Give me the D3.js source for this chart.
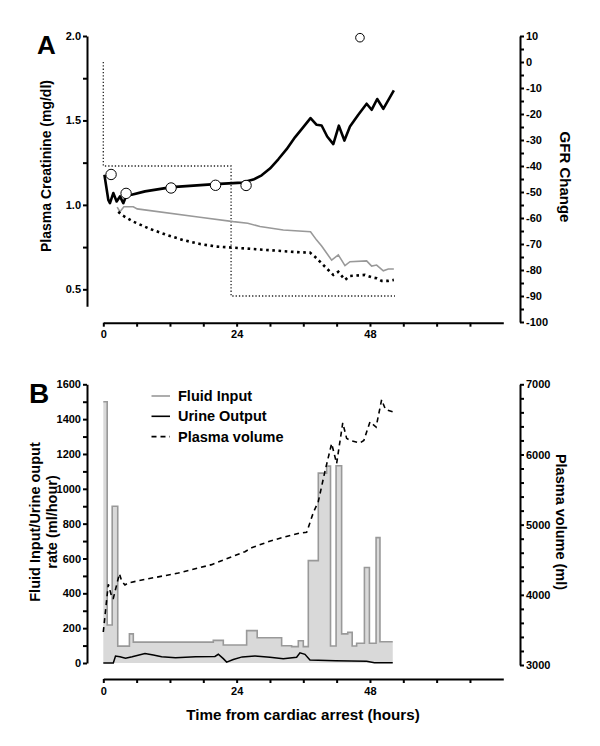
<!DOCTYPE html>
<html><head><meta charset="utf-8">
<script src="https://cdn.jsdelivr.net/npm/d3@7"></script>
<style>
body{margin:0;background:#fff;}
svg{font-family:"Liberation Sans",Arial,sans-serif;}
.axis text{font-weight:bold;font-size:11px;fill:#000;}
.axis path,.axis line{stroke:#000;stroke-width:2px;}
</style></head><body>
<svg id="c" width="600" height="746"></svg>
<script>
// ---------- Panel A data ----------
const xTicks = [0, 24, 48];
const crTicks = [0.5, 1.0, 1.5, 2.0];
const gfrTicks = [10, 0, -10, -20, -30, -40, -50, -60, -70, -80, -90, -100];
// modelled creatinine (mg/dl) [hour, value]
const creatHours = [0.2,0.9,1.2,1.8,2.4,3.0,3.6,4.2,5.1,7.5,12.3,20.1,25.0,27.0,28.5,30.0,31.5,33.0,34.5,36.0,37.3,38.4,39.3,40.3,41.4,42.4,43.4,44.4,45.9,47.4,48.3,49.3,50.4,52.3];
const creatValues = [1.178,1.03,1.01,1.07,1.02,1.05,1.01,1.06,1.06,1.08,1.105,1.123,1.132,1.15,1.175,1.215,1.27,1.33,1.40,1.46,1.514,1.474,1.47,1.405,1.36,1.469,1.381,1.464,1.534,1.599,1.563,1.627,1.569,1.678];
// measured creatinine (circles)
const measHours = [1.4, 4.1, 12.2, 20.2, 25.7, 46.2];
const measValues = [1.18, 1.068, 1.10, 1.116, 1.115, 1.99];
// GFR change (grey line)
const gfrHours = [2.5,3.0,3.7,5.4,6.1,17.4,23.4,26.0,28.2,32.4,37.3,38.4,39.3,41.1,42.3,43.5,44.4,47.4,48.3,49.2,50.4,51.3,52.3];
const gfrValues = [-55.8,-57.6,-55.7,-55.7,-56.5,-59.7,-61.4,-62.0,-63.3,-64.6,-65.3,-68.5,-70.8,-76.2,-74.2,-78.3,-76.8,-76.5,-78.5,-78.1,-80.3,-79.6,-79.6];
// second GFR estimate (thick dotted)
const gfr2Hours = [2.7,3.3,5.4,8.4,11.4,14.4,17.4,20.4,23.4,29.4,35.4,37.2,38.1,39.0,40.5,41.4,42.3,43.5,44.4,47.1,48.3,49.2,50.1,51.3,52.3];
const gfr2Values = [-57.6,-58.8,-61.4,-64.2,-66.5,-68.5,-70.0,-71.0,-71.4,-72.3,-73.2,-73.3,-74.9,-76.8,-80.0,-81.9,-80.7,-83.8,-82.3,-81.9,-82.8,-83.2,-84.2,-84.2,-83.8];
// staircase (fine dotted)
const stepHours = [0, 0, 23, 23, 52.5];
const stepValues = [0, -40, -40, -90, -90];

// ---------- Panel B data ----------
const fluidTicks = [0, 200, 400, 600, 800, 1000, 1200, 1400, 1600];
const pvTicks = [3000, 4000, 5000, 6000, 7000];
// fluid input (ml/hour), step starts
const fluidHours = [0,0.7,1.6,2.6,4.7,5.4,19.8,21.6,25.8,27.7,32.1,33.9,35.1,36.0,36.9,38.7,40.2,40.9,41.9,42.9,44.0,44.8,45.6,47.0,47.9,49.1,49.8,52.1];
const fluidValues = [1500,218,900,97,167,120,130,103,186,145,99,94,128,94,588,1090,1130,98,1132,167,176,98,113,548,113,720,122,122];
// urine output (ml/hour)
const urineHours = [0,1.8,2.2,3.0,4.0,5.2,7.5,9.0,10.5,13.0,16.6,20.1,20.7,21.6,22.2,23.4,25.0,27.3,30.0,32.4,34.8,35.4,36.3,37.2,41.8,47.4,48.8,52.1];
const urineValues = [0,0,40,36,28,36,55,46,36,30,36,38,50,25,5,20,35,40,33,25,33,58,50,17,13,10,2,2];
// plasma volume (ml)
const pvHours = [0,0.9,1.6,1.8,2.9,3.3,3.9,4.5,7.5,13.5,19.5,25.5,26.7,29.8,32.4,35.4,36.6,37.8,38.7,39.9,41.1,42.0,43.1,43.8,44.4,46.2,46.9,48.0,49.1,50.1,50.8,52.2];
const pvValues = [3470,4150,3950,3950,4300,4200,4140,4170,4220,4310,4430,4615,4670,4760,4820,4880,4890,5170,5330,5760,6156,5872,6450,6230,6200,6165,6200,6464,6390,6780,6640,6606];

const legendLabels = ["Fluid Input", "Urine Output", "Plasma volume"];

const svg = d3.select("#c");
const zip = (a, b) => a.map((h, i) => [h, b[i]]);

// ---------- scales ----------
const x = d3.scaleLinear([0, 72], [103.3, 503.3]);
const yCr = d3.scaleLinear([0.4, 2.0], [306.2, 36]);
const yGfr = d3.scaleLinear([-100, 10], [322, 36]);
const yF = d3.scaleLinear([0, 1600], [663, 384.3]);
const yPV = d3.scaleLinear([3000, 7000], [665, 384.3]);

const hourTicks = d3.range(0, 67, 6);

function xAxis(yPos) {
  const g = svg.append("g").attr("class", "axis").attr("transform", `translate(0,${yPos})`);
  g.call(d3.axisBottom(x).tickValues(hourTicks).tickSize(4).tickSizeOuter(0)
    .tickFormat(d => xTicks.includes(d) ? d : "").tickPadding(4));
}
function yAxis(scale, xPos, major, minor, right, fmt) {
  const ax = right ? d3.axisRight : d3.axisLeft;
  const g = svg.append("g").attr("class", "axis").attr("transform", `translate(${xPos},0)`);
  g.call(ax(scale).tickValues(major).tickSize(4).tickSizeOuter(0).tickPadding(2).tickFormat(fmt));
  const m = svg.append("g").attr("class", "axis").attr("transform", `translate(${xPos},0)`);
  m.call(ax(scale).tickValues(minor).tickSize(4).tickSizeOuter(0).tickFormat(""));
  m.select(".domain").remove();
}

// ---------- Panel A ----------
xAxis(322.7);
yAxis(yCr, 87, crTicks, [0.75, 1.25, 1.75], false, d3.format(".1f"));
yAxis(yGfr, 520, gfrTicks, d3.range(-95, 10, 10), true, d => d);

const lineCr = d3.line().x(d => x(d[0])).y(d => yCr(d[1]));
const lineG = d3.line().x(d => x(d[0])).y(d => yGfr(d[1]));

svg.append("path").datum(zip(stepHours, stepValues)).attr("d", lineG)
  .attr("fill", "none").attr("stroke", "#222").attr("stroke-width", 1.3).attr("stroke-dasharray", "1.3,2");
svg.append("path").datum(zip(gfrHours, gfrValues)).attr("d", lineG)
  .attr("fill", "none").attr("stroke", "#999").attr("stroke-width", 1.6);
svg.append("path").datum(zip(gfr2Hours, gfr2Values)).attr("d", lineG)
  .attr("fill", "none").attr("stroke", "#000").attr("stroke-width", 2.6).attr("stroke-dasharray", "2.6,3.6");
svg.append("path").datum(zip(creatHours, creatValues)).attr("d", lineCr)
  .attr("fill", "none").attr("stroke", "#000").attr("stroke-width", 2.6).attr("stroke-linejoin", "round");
svg.append("g").selectAll("circle").data(zip(measHours, measValues)).join("circle")
  .attr("cx", d => x(d[0])).attr("cy", d => yCr(d[1])).attr("r", (d, i) => i === 5 ? 4.3 : 5.2)
  .attr("fill", "#fff").attr("stroke", "#000").attr("stroke-width", 1);

// ---------- Panel B ----------
xAxis(679);
yAxis(yF, 87, fluidTicks, d3.range(100, 1600, 200), false, d => d);
yAxis(yPV, 520, pvTicks, d3.range(3200, 7000, 200).filter(v => v % 1000 !== 0), true, d => d);

const fluidData = zip(fluidHours, fluidValues);
svg.append("path").datum(fluidData)
  .attr("d", d3.area().curve(d3.curveStepAfter).x(d => x(d[0])).y0(yF(0)).y1(d => yF(d[1])))
  .attr("fill", "#d9d9d9").attr("stroke", "none");
svg.append("path").datum(fluidData)
  .attr("d", d3.line().curve(d3.curveStepAfter).x(d => x(d[0])).y(d => yF(d[1])))
  .attr("fill", "none").attr("stroke", "#999").attr("stroke-width", 1.6);
svg.append("path").datum(zip(urineHours, urineValues))
  .attr("d", d3.line().x(d => x(d[0])).y(d => yF(d[1])))
  .attr("fill", "none").attr("stroke", "#000").attr("stroke-width", 1.5);
svg.append("path").datum(zip(pvHours, pvValues))
  .attr("d", d3.line().x(d => x(d[0])).y(d => yPV(d[1])))
  .attr("fill", "none").attr("stroke", "#000").attr("stroke-width", 1.6).attr("stroke-dasharray", "5,4");

// legend
const legStyles = [{c: "#999", d: null}, {c: "#000", d: null}, {c: "#000", d: "5,4"}];
legendLabels.forEach((lab, i) => {
  const yy = 396 + i * 20.3;
  svg.append("line").attr("x1", 151.5).attr("x2", 170).attr("y1", yy).attr("y2", yy)
    .attr("stroke", legStyles[i].c).attr("stroke-width", 1.6).attr("stroke-dasharray", legStyles[i].d);
  svg.append("text").attr("x", 178).attr("y", yy + 5).text(lab)
    .attr("font-weight", "bold").attr("font-size", 14.5);
});

// ---------- titles ----------
const T = (txt, xx, yy, rot, size) => svg.append("text").text(txt)
  .attr("transform", `translate(${xx},${yy}) rotate(${rot})`).attr("text-anchor", "middle")
  .attr("font-weight", "bold").attr("font-size", size);
T("Plasma Creatinine (mg/dl)", 51, 166, -90, 14);
T("GFR Change", 560, 177, 90, 15);
T("Fluid Input/Urine ouput", 40, 522, -90, 14.5);
T("rate (ml/hour)", 57, 522, -90, 14.5);
T("Plasma volume (ml)", 556, 522, 90, 14.5);
T("Time from cardiac arrest (hours)", 303, 720, 0, 15.2);
svg.append("text").text("A").attr("x", 37).attr("y", 54).attr("font-weight", "bold").attr("font-size", 26);
svg.append("text").text("B").attr("x", 29).attr("y", 403).attr("font-weight", "bold").attr("font-size", 28);
</script></body></html>
